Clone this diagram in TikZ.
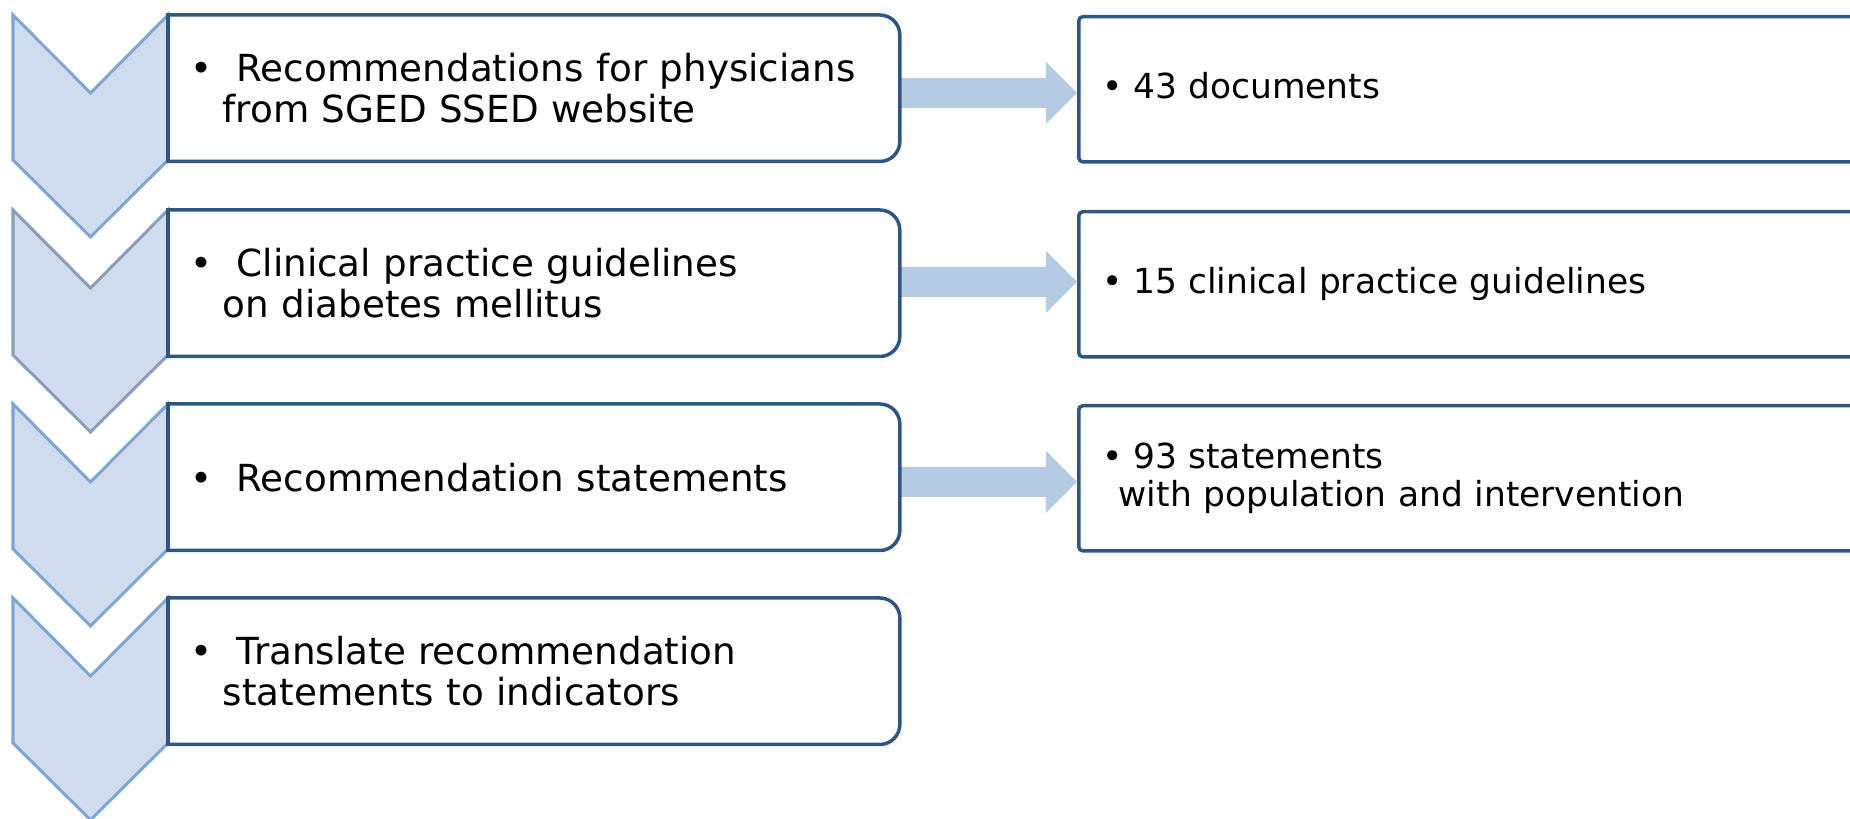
\documentclass[tikz,border=0pt]{standalone}
\usepackage{fontspec}
\setmainfont{DejaVu Sans}
\usetikzlibrary{calc,backgrounds}
\definecolor{chevfill}{HTML}{CFDCED}
\definecolor{chevline}{HTML}{7FA5D2}
\definecolor{chevgray}{HTML}{8B9EB5}
\definecolor{boxline}{HTML}{2F5583}
\definecolor{arrowfill}{HTML}{B5CBE4}
\tikzset{
  chev/.style={fill=chevfill, draw=chevline, line width=0.03cm, line join=miter},
  chevg/.style={chev, draw=chevgray},
  leftbox/.style={font=\fontsize{10.6}{11.7}\selectfont, align=left, inner ysep=0pt,
    anchor=north west, minimum width=7.3cm, minimum height=1.45cm,
    text width=6.86cm, inner xsep=0.22cm},
  rightbox/.style={font=\fontsize{9.8}{10.8}\selectfont, align=left, inner ysep=0pt,
    anchor=north west, minimum width=7.76cm, minimum height=1.45cm,
    text width=7.28cm, inner xsep=0.24cm, draw=boxline, fill=white,
    line width=0.035cm, rounded corners=0.04cm},
  border/.style={draw=boxline, fill=white, line width=0.035cm},
  flow/.style={fill=arrowfill}
}
\newcommand\leftoutline[1]{%
  \path[border] (#1.south west) -- (#1.north west) -- ([xshift=-0.2cm]#1.north east)
    arc[start angle=90, end angle=0, radius=0.2cm] -- ([yshift=0.2cm]#1.south east)
    arc[start angle=0, end angle=-90, radius=0.2cm] -- cycle;}
\newcommand\flowarrow[3]{%
  \fill[flow] ($(#1.east |- #3)+(0,0.15cm)$) -- ($(#2.west |- #3)+(-0.31cm,0.15cm)$)
    -- ($(#2.west |- #3)+(-0.31cm,0.31cm)$) -- (#2.west |- #3)
    -- ($(#2.west |- #3)+(-0.31cm,-0.31cm)$) -- ($(#2.west |- #3)+(-0.31cm,-0.15cm)$)
    -- ($(#1.east |- #3)+(0,-0.15cm)$) -- cycle;}
\begin{document}
\begin{tikzpicture}[x=0.01cm, y=-0.01cm]
\useasboundingbox (0,0) rectangle (1850,819);
\clip (0,0) rectangle (1850,819);
% left boxes (text)
\node[leftbox] (L1) at (168,15) {\textbullet\hspace{0.24cm}Recommendations for physicians\\\hspace*{0.32cm}from SGED SSED website};
\node[leftbox] (L2) at (168,210) {\textbullet\hspace{0.24cm}Clinical practice guidelines\\\hspace*{0.32cm}on diabetes mellitus};
\node[leftbox] (L3) at (168,404) {\textbullet\hspace{0.24cm}Recommendation statements};
\node[leftbox] (L4) at (168,598) {\textbullet\hspace{0.24cm}Translate recommendation\\\hspace*{0.32cm}statements to indicators};
% right boxes
\node[rightbox] (R1) at (1077,15) {\textbullet\hspace{0.10cm}43 documents\vphantom{g}};
\node[rightbox] (R2) at (1077,210) {\textbullet\hspace{0.10cm}15 clinical practice guidelines};
\node[rightbox] (R3) at (1077,404) {\textbullet\hspace{0.10cm}93 statements\\\hspace*{0.16cm}with population and intervention};
% arrow levels
\coordinate (y1) at (0,93);
\coordinate (y2) at (0,282);
\coordinate (y3) at (0,482);
\begin{scope}[on background layer]
  \foreach \t/\s in {15/chev, 210/chevg, 404/chev, 598/chev}{
    \draw[\s] (13,\t) -- (90.5,{\t+78}) -- (168,\t) -- (168,{\t+145}) -- (90.5,{\t+222}) -- (13,{\t+145}) -- cycle;
  }
  \flowarrow{L1}{R1}{y1}
  \flowarrow{L2}{R2}{y2}
  \flowarrow{L3}{R3}{y3}
  \foreach \n in {L1,L2,L3,L4}{\leftoutline{\n}}
\end{scope}
\end{tikzpicture}
\end{document}
